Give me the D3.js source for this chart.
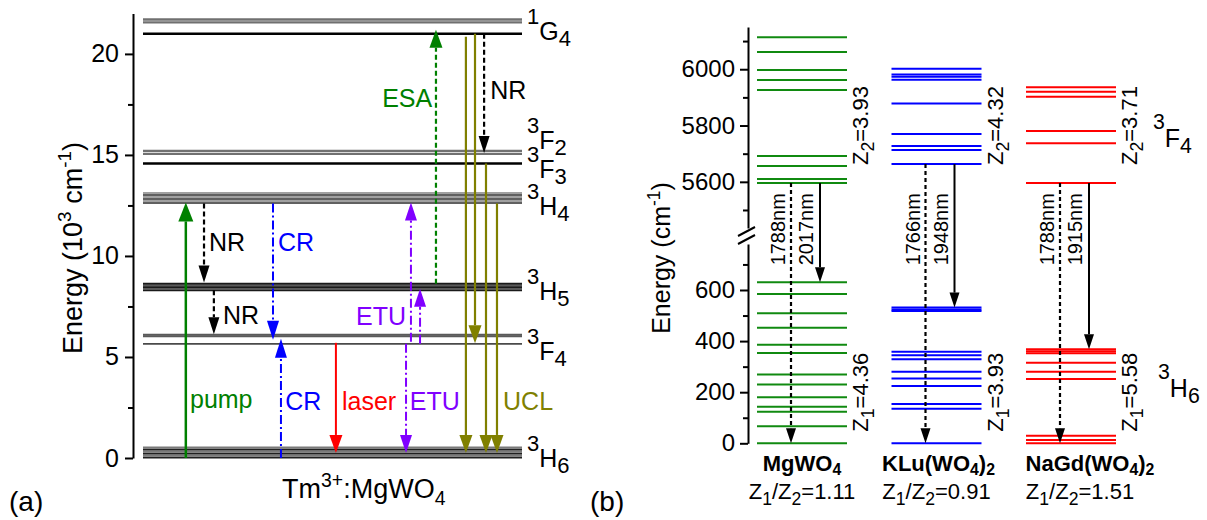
<!DOCTYPE html>
<html><head><meta charset="utf-8">
<script src="https://cdn.jsdelivr.net/npm/d3@7"></script>
<style>body{margin:0;background:#fff} svg{display:block} text{font-family:"Liberation Sans",Arial,sans-serif}</style>
</head><body><svg id="c" width="1207" height="520"></svg>
<script>
// ---------- DATA : panel (a) ----------
const ticksA = [0, 5, 10, 15, 20];
const minorA = [2.5, 7.5, 12.5, 17.5];
const manifoldsA = ["1G4", "3F2", "3F3", "3H4", "3H5", "3F4", "3H6"];
const starkA = [
  [21.0, 21.56, 21.70],
  [15.05, 15.20],
  [14.57],
  [12.62, 12.72, 12.82, 12.92, 13.02, 13.12],
  [8.30, 8.38, 8.46, 8.54, 8.62],
  [5.65, 6.02, 6.10],
  [0.02, 0.12, 0.22, 0.32, 0.42, 0.52]
];
const labelSupA = ["1", "3", "3", "3", "3", "3", "3"];
const labelMainA = ["G", "F", "F", "H", "H", "F", "H"];
const labelSubA = ["4", "2", "3", "4", "5", "4", "6"];
const labelEA = [20.69, 15.3, 13.88, 12.03, 7.82, 4.85, -0.45];

// transitions: kind, position (0-100 across level width), from, to (10^3 cm-1)
const transKind = ["pump","NR","NR","CR","CR","laser","ETU","ETU","ETU","ESA","NR","UCL","UCL","UCL","UCL"];
const transPos  = [11.3, 16.1, 18.7, 34.3, 36.4, 50.9, 69.4, 70.7, 73.1, 77.3, 90.0, 85.2, 87.6, 90.5, 93.4];
const transFrom = [0, 12.6, 8.3, 12.6, 0, 5.7, 5.65, 5.75, 5.65, 8.62, 21.0, 20.85, 21.0, 14.57, 12.6];
const transTo   = [12.65, 8.68, 6.12, 5.85, 5.9, 0.25, 0.25, 12.65, 8.38, 21.2, 15.1, 0.25, 5.68, 0.25, 0.25];

const annText = ["pump","CR","laser","ETU","UCL","ETU","NR","NR","CR","ESA","NR"];
const annKind = ["pump","CR","laser","ETU","UCL","ETU","NR","NR","CR","ESA","NR"];
const annPos  = [12.4, 37.5, 52.5, 70.4, 95.0, 69.4, 17.4, 21.1, 35.6, 76.3, 91.6];
const annE    = [2.48, 2.38, 2.38, 2.38, 2.38, 6.58, 10.25, 6.63, 10.25, 17.38, 17.77];
const annEnd  = [0,0,0,0,0,1,0,0,0,1,0];

// ---------- DATA : panel (b) ----------
const hosts = ["MgWO4", "KLu(WO4)2", "NaGd(WO4)2"];
const upperTicks = [5600, 5800, 6000];
const upperMinor = [5500, 5700, 5900, 6100];
const lowerTicks = [0, 200, 400, 600];
const lowerMinor = [100, 300, 500, 700];
const upperMg   = [5596, 5610, 5656, 5692, 5926, 5962, 5997, 6061, 6114];
const lowerMg   = [0, 67, 123, 143, 180, 230, 269, 353, 386, 452, 509, 584, 630];
const upperKLu  = [5663, 5713, 5727, 5770, 5878, 5963, 5973, 5981, 6002];
const lowerKLu  = [0, 135, 154, 224, 254, 280, 329, 345, 358, 518, 524, 531];
const upperNaGd = [5596, 5737, 5781, 5902, 5920, 5936];
const lowerNaGd = [0, 13, 30, 252, 280, 315, 352, 360, 368];
const solidTo   = [630, 531, 368];
const dottedNm  = ["1788nm", "1766nm", "1788nm"];
const solidNm   = ["2017nm", "1948nm", "1915nm"];
const z1 = ["4.36", "3.93", "5.58"];
const z2 = ["3.93", "4.32", "3.71"];
const zRatio = ["1.11", "0.91", "1.51"];

// ---------- helpers ----------
const svg = d3.select("#c");
svg.append("rect").attr("width",1207).attr("height",520).attr("fill","#fff");
const FONT = '"Liberation Sans", Arial, sans-serif';

function rich(sel, parts, fs, o = {}) {
  const sc = o.scale ?? 0.7, up = o.up ?? 0.4 * fs, dn = o.dn ?? 0.25 * fs;
  let cur = 0;
  parts.forEach(([t, m]) => {
    const target = m === 1 ? -up : m === -1 ? dn : 0;
    const ts = sel.append("tspan").text(t).attr("dy", target - cur);
    if (m) ts.attr("font-size", fs * sc);
    cur = target;
  });
  return sel;
}
function arrow(g, x, y1, y2, color, dash, w, hw, hl) {
  const dir = Math.sign(y2 - y1);
  const base = y2 - dir * hl;
  g.append("line").attr("x1", x).attr("x2", x).attr("y1", y1).attr("y2", base)
    .attr("stroke", color).attr("stroke-width", w).attr("stroke-dasharray", dash || null);
  g.append("path").attr("d", `M${x},${y2}L${x - hw / 2},${base}L${x + hw / 2},${base}Z`).attr("fill", color);
}
function styleAxis(ax, fs) {
  ax.attr("font-family", FONT).attr("font-size", fs);
  ax.select(".domain").attr("stroke", "#000").attr("stroke-width", 2);
  ax.selectAll(".tick line").attr("stroke", "#000").attr("stroke-width", 2);
  ax.selectAll(".tick text").attr("fill", "#000");
}

// ---------- panel (a) ----------
const yA = d3.scaleLinear().domain([0, 22]).range([458, 13.5]);
const xA = d3.scaleLinear().domain([0, 100]).range([143, 522]);
const gA = svg.append("g");

const axA = gA.append("g").attr("transform", "translate(133,0)")
  .call(d3.axisLeft(yA).tickValues(ticksA).tickSize(8).tickSizeOuter(0).tickPadding(6));
styleAxis(axA, 25);
const axAm = gA.append("g").attr("transform", "translate(133,0)")
  .call(d3.axisLeft(yA).tickValues(minorA).tickSize(5).tickSizeOuter(0).tickFormat(""));
styleAxis(axAm, 25); axAm.select(".domain").remove();

const toneA = {
  "1G4": (j) => j === 0 ? ["#000", 2.5] : ["#707070", 2.4],
  "3F2": () => ["#707070", 2.2],
  "3F3": () => ["#000", 2.5],
  "3H4": (j) => [j % 2 ? "#a0a0a0" : "#606060", 2],
  "3H5": (j) => [j % 2 ? "#5a5a5a" : "#1a1a1a", 2],
  "3F4": (j) => j === 0 ? ["#4a4a4a", 1.8] : ["#5a5a5a", 2],
  "3H6": (j) => [j % 2 ? "#7a7a7a" : "#202020", 2]
};
manifoldsA.forEach((m, i) => {
  starkA[i].forEach((e, j) => {
    const [c, w] = toneA[m](j);
    gA.append("line").attr("x1", xA(0)).attr("x2", xA(100)).attr("y1", yA(e)).attr("y2", yA(e))
      .attr("stroke", c).attr("stroke-width", w);
  });
  rich(gA.append("text").attr("x", xA(100) + 5).attr("y", yA(labelEA[i])).attr("font-size", 25).attr("fill", "#000"),
    [[labelSupA[i], 1], [labelMainA[i], 0], [labelSubA[i], -1]], 25, { scale: 0.88, up: 16, dn: 6 });
});

const kindStyle = {
  pump:  { c: "#008000", d: null, w: 2.5, hw: 15, hl: 19 },
  NR:    { c: "#000000", d: "5,3", w: 2.2, hw: 11, hl: 17 },
  CR:    { c: "#0000ff", d: "9,3,2,3", w: 2, hw: 12, hl: 19 },
  laser: { c: "#ff0000", d: null, w: 2, hw: 13, hl: 18 },
  ETU:   { c: "#8000ff", d: "9,3,2,3", w: 2, hw: 12, hl: 18 },
  ESA:   { c: "#008000", d: "5,3", w: 2.2, hw: 13, hl: 18 },
  UCL:   { c: "#808000", d: null, w: 2.2, hw: 13, hl: 18 }
};
transKind.forEach((k, i) => {
  const s = kindStyle[k];
  arrow(gA, xA(transPos[i]), yA(transFrom[i]), yA(transTo[i]), s.c, s.d, s.w, s.hw, s.hl);
});
annText.forEach((t, i) => {
  gA.append("text").attr("x", xA(annPos[i])).attr("y", yA(annE[i]))
    .attr("text-anchor", annEnd[i] ? "end" : "start")
    .attr("font-size", 25).attr("fill", kindStyle[annKind[i]].c).text(t);
});

rich(gA.append("text").attr("transform", "translate(82,248) rotate(-90)").attr("text-anchor", "middle")
  .attr("font-size", 27).attr("fill", "#000"),
  [["Energy (10", 0], ["3", 1], [" cm", 0], ["-1", 1], [")", 0]], 27);
rich(gA.append("text").attr("x", 282).attr("y", 498).attr("font-size", 27).attr("fill", "#000"),
  [["Tm", 0], ["3+", 1], [":MgWO", 0], ["4", -1]], 27, { scale: 0.72 });
svg.append("text").attr("x", 9).attr("y", 511).attr("font-size", 28).text("(a)");

// ---------- panel (b) ----------
const gB = svg.append("g");
const yU = d3.scaleLinear().domain([5436, 6150]).range([228, 27]);
const yL = d3.scaleLinear().domain([0, 780]).range([443.3, 244]);
const yB = v => v >= 5000 ? yU(v) : yL(v);
const xB = d3.scalePoint().domain(hosts).range([802, 1071]);
const half = 45;
const AX = 748;

[[yU, upperTicks, upperMinor], [yL, lowerTicks, lowerMinor]].forEach(([sc, tv, mv]) => {
  const a = gB.append("g").attr("transform", `translate(${AX},0)`)
    .call(d3.axisLeft(sc).tickValues(tv).tickSize(8).tickSizeOuter(0).tickPadding(5).tickFormat(d3.format("d")));
  styleAxis(a, 24);
  const m = gB.append("g").attr("transform", `translate(${AX},0)`)
    .call(d3.axisLeft(sc).tickValues(mv).tickSize(5).tickSizeOuter(0).tickFormat(""));
  styleAxis(m, 24); m.select(".domain").remove();
});
// axis break marks
[0, 8].forEach(o => {
  gB.append("line").attr("x1", AX - 10).attr("y1", yU.range()[0] + 8 + o).attr("x2", AX + 7).attr("y2", yU.range()[0] - 1 + o)
    .attr("stroke", "#000").attr("stroke-width", 2);
});

const hostColor = ["#108a10", "#0000ff", "#ff0000"];
const uppers = [upperMg, upperKLu, upperNaGd];
const lowers = [lowerMg, lowerKLu, lowerNaGd];
hosts.forEach((h, i) => {
  const cx = xB(h);
  uppers[i].concat(lowers[i]).forEach(v => {
    gB.append("line").attr("x1", cx - half).attr("x2", cx + half).attr("y1", yB(v)).attr("y2", yB(v))
      .attr("stroke", hostColor[i]).attr("stroke-width", 2);
  });
  const top = d3.min(uppers[i]);
  const xd = cx - 11, xs = cx + 18;
  arrow(gB, xd, yB(top), yB(0), "#000", "4,3", 2.2, 10, 15);
  arrow(gB, xs, yB(top), yB(solidTo[i]), "#000", null, 2, 10, 15);
  const ly = yU(5560);
  gB.append("text").attr("transform", `translate(${xd - 6},${ly}) rotate(-90)`).attr("text-anchor", "end")
    .attr("font-size", 20).text(dottedNm[i]);
  gB.append("text").attr("transform", `translate(${xs - 7},${ly}) rotate(-90)`).attr("text-anchor", "end")
    .attr("font-size", 20).text(solidNm[i]);
  rich(gB.append("text").attr("transform", `translate(${cx + half + 21},${yU(5800)}) rotate(-90)`).attr("text-anchor", "middle")
    .attr("font-size", 22), [["Z", 0], ["2", -1], ["=" + z2[i], 0]], 22, { scale: 0.8, dn: 6 });
  rich(gB.append("text").attr("transform", `translate(${cx + half + 21},${yL(200)}) rotate(-90)`).attr("text-anchor", "middle")
    .attr("font-size", 22), [["Z", 0], ["1", -1], ["=" + z1[i], 0]], 22, { scale: 0.8, dn: 6 });
  const nameParts = i === 0 ? [["MgWO", 0], ["4", -1]] :
    i === 1 ? [["KLu(WO", 0], ["4", -1], [")", 0], ["2", -1]] : [["NaGd(WO", 0], ["4", -1], [")", 0], ["2", -1]];
  rich(gB.append("text").attr("x", cx + [0, 2, 19][i]).attr("y", 471).attr("text-anchor", "middle")
    .attr("font-size", 22).attr("font-weight", "bold"), nameParts, 22, { scale: 0.72, dn: 4 });
  rich(gB.append("text").attr("x", cx + [0, 0, 9][i]).attr("y", 499).attr("text-anchor", "middle")
    .attr("font-size", 22), [["Z", 0], ["1", -1], ["/Z", 0], ["2", -1], ["=" + zRatio[i], 0]], 22, { scale: 0.8, dn: 6 });
});
rich(gB.append("text").attr("x", 1153).attr("y", yU(5724)).attr("font-size", 25),
  [["3", 1], ["F", 0], ["4", -1]], 25, { scale: 0.85, up: 18, dn: 6 });
rich(gB.append("text").attr("x", 1158).attr("y", yL(181)).attr("font-size", 25),
  [["3", 1], ["H", 0], ["6", -1]], 25, { scale: 0.85, up: 18, dn: 6 });
rich(gB.append("text").attr("transform", "translate(670,258) rotate(-90)").attr("text-anchor", "middle")
  .attr("font-size", 25), [["Energy (cm", 0], ["-1", 1], [")", 0]], 25);
svg.append("text").attr("x", 590).attr("y", 511).attr("font-size", 28).text("(b)");
</script></body></html>
